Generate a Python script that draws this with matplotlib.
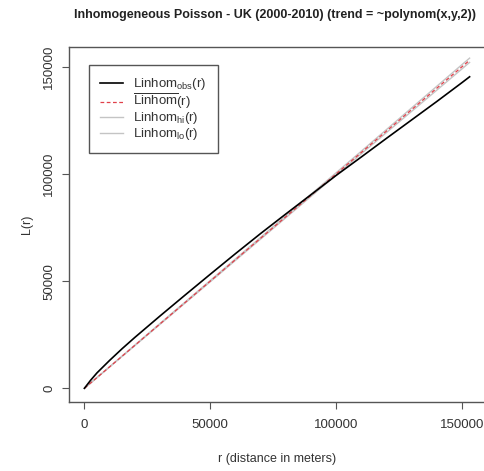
import matplotlib
matplotlib.use("Agg")
import matplotlib.pyplot as plt

plt.rcParams['font.family'] = ['Liberation Sans', 'DejaVu Sans']
plt.rcParams['mathtext.fontset'] = 'custom'
plt.rcParams['mathtext.rm'] = 'Liberation Sans'
plt.rcParams['mathtext.it'] = 'Liberation Sans'

# distance r (m)
r = [0, 2500, 5000, 10000, 15000, 20000, 30000, 40000, 50000, 60000, 70000,
     80000, 90000, 100000, 110000, 120000, 130000, 140000, 150000, 153000]
# observed Linhom
l_obs = [0, 3800, 7200, 13000, 18500, 23700, 33700, 43500, 53200, 62800, 72200,
         81300, 90300, 99300, 107900, 116600, 125200, 133800, 142600, 145300]
# theoretical Linhom
l_theo = [0, 2500, 5000, 10000, 15000, 20000, 30000, 40000, 50000, 60000, 70000,
          80000, 90000, 100000, 110000, 120000, 130000, 140000, 150000, 153000]
# upper envelope
l_hi = [0, 2550, 5050, 10050, 15100, 20150, 30200, 40250, 50300, 60350, 70400,
        80450, 90500, 100550, 110600, 120700, 130800, 140900, 151000, 154000]
# lower envelope
l_lo = [0, 2450, 4950, 9950, 14900, 19850, 29800, 39750, 49700, 59650, 69600,
        79550, 89500, 99450, 109400, 119300, 129200, 139100, 149000, 152000]

x_ticks = [0, 50000, 100000, 150000]
y_ticks = [0, 50000, 100000, 150000]

W, H = 484, 471
fig = plt.figure(figsize=(W / 100, H / 100), dpi=100)
ax_h = (402 - 46.7) / H
ax = fig.add_axes([69 / W, (H - 402) / H, 416 / W, ax_h])

txt = '#333333'
edge = '#555555'

ax.plot(r, l_hi, color='#c4c4c4', lw=1.0, zorder=2, label=r'$\mathrm{Linhom}_{\mathrm{hi}}(r)$')
ax.plot(r, l_lo, color='#c4c4c4', lw=1.0, zorder=2, label=r'$\mathrm{Linhom}_{\mathrm{lo}}(r)$')
ax.plot(r, l_theo, color='#e0404a', lw=0.9, ls=(0, (3, 2)), zorder=3,
        label=r'$\overline{\mathrm{Linhom}}(r)$')
ax.plot(r, l_obs, color='black', lw=1.2, zorder=4, label=r'$\mathrm{Linhom}_{\mathrm{obs}}(r)$')

ax.set_xlim(-6120, 159120)
ax.set_ylim(-6390, 159330)
ax.set_xticks(x_ticks)
ax.set_yticks(y_ticks)
ax.set_xticklabels([str(v) for v in x_ticks], fontsize=9.5, color=txt)
ax.set_yticklabels([str(v) for v in y_ticks], fontsize=9.5, color=txt, rotation=90, va='center')
ax.tick_params(direction='out', length=5, width=0.8, color=edge)
ax.tick_params(axis='x', pad=7)
ax.tick_params(axis='y', pad=5)
for s in ax.spines.values():
    s.set_color(edge)
    s.set_linewidth(1.0)

ax.set_xlabel('r (distance in meters)', fontsize=9, color=txt, va='center')
ax.xaxis.set_label_coords(0.5, (402 - 459) / (ax_h * H))
ax.set_ylabel('L(r)', fontsize=9, color=txt, va='center')
ax.yaxis.set_label_coords((27 - 69) / 416, 0.5)
fig.text(275 / W, 1 - 15 / H, 'Inhomogeneous Poisson - UK (2000-2010) (trend = ~polynom(x,y,2))',
         ha='center', va='center', fontsize=9, fontweight='bold', color='#222222')

h, l = ax.get_legend_handles_labels()
order = [3, 2, 0, 1]
leg = ax.legend([h[i] for i in order], [l[i] for i in order], loc='upper left',
                bbox_to_anchor=(20 / 416, (402 - 65) / (ax_h * H)), borderaxespad=0,
                fontsize=9.5, frameon=True, fancybox=False,
                edgecolor=edge, framealpha=1, handlelength=1.7, handletextpad=0.8,
                handleheight=0.5, labelspacing=-0.04, borderpad=0.85, labelcolor=txt)
leg.get_frame().set_linewidth(1.0)

fig.savefig('out.png', dpi=100)
